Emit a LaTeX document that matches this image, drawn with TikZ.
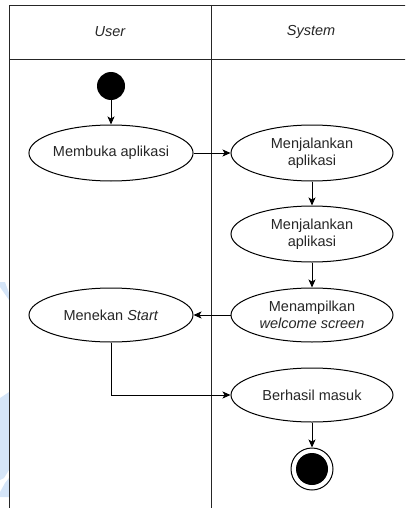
\documentclass[tikz,border=0pt]{standalone}
\usepackage{fontspec}
\setmainfont{Liberation Sans}
\usetikzlibrary{arrows.meta,shapes.geometric}
\definecolor{paleblue}{HTML}{D5E5F8}
\begin{document}
\begin{tikzpicture}[x=1pt,y=-1pt,
  lane/.style={draw=black!85,line width=0.9pt},
  act/.style={ellipse,draw=black,line width=1pt,minimum width=162pt,minimum height=56pt,inner sep=0pt,align=center,font=\fontsize{14.5}{17}\selectfont,text=black!85},
  flow/.style={draw=black,line width=1pt,-{Stealth[length=8pt,width=7pt,inset=2pt]}},
  head/.style={font=\fontsize{14.5}{17}\selectfont\itshape,text=black!85}]
\useasboundingbox (0,0) rectangle (405,508);
\begin{scope}
\clip (0,0) rectangle (405,508);
% pale emblem behind the left border
\fill[paleblue] (0,282) -- (5,282) -- (9,293) -- (9,300) -- (0,287) -- cycle;
\fill[paleblue] (0,398) -- (9,392) -- (9,470) -- (4,478) -- (0,480) -- cycle;
\fill[paleblue] (0,492) -- (5,483) -- (9,478) -- (9,497) -- (0,497) -- cycle;
% swimlane frame
\draw[lane] (9,510) -- (9,5) -- (410,5);
\draw[lane] (9,59) -- (410,59);
\draw[lane] (211,5) -- (211,510);
\end{scope}
\node[head] (hu) at (110,32) {User};
\node[head] (hs) at (311,32) {System};
% start / end
\node[circle,fill=black,minimum size=28pt,inner sep=0pt] (start) at (111,86) {};
\node[circle,draw=black,line width=1pt,minimum size=42pt,inner sep=0pt] (endo) at (312,469) {};
\node[circle,fill=black,minimum size=32pt,inner sep=0pt] (endi) at (312,469) {};
% activities
\node[act,minimum width=164pt] (a1) at (111,153) {Membuka aplikasi};
\node[act] (a2) at (312,153) {Menjalankan\\aplikasi};
\node[act] (a3) at (312,234) {Menjalankan\\aplikasi};
\node[act,minimum height=54pt] (a4) at (312,315) {Menampilkan\\\textit{welcome screen}};
\node[act,minimum width=164pt,minimum height=54pt] (a5) at (111,315) {Menekan \textit{Start}};
\node[act,minimum height=54pt] (a6) at (312,395) {Berhasil masuk};
% flows
\draw[flow] (start) -- (a1);
\draw[flow] (a1) -- (a2);
\draw[flow] (a2) -- (a3);
\draw[flow] (a3) -- (a4);
\draw[flow] (a4) -- (a5);
\draw[flow] (a5.south) |- (a6.west);
\draw[flow] (a6) -- (endo);
\end{tikzpicture}
\end{document}
